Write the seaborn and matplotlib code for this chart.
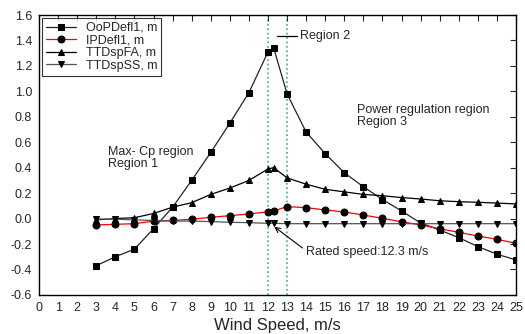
import pandas as pd
import seaborn as sns
import matplotlib
matplotlib.use("Agg")
import matplotlib.pyplot as plt

# wind speed (m/s), includes the rated speed point 12.3
wind_speed = [3, 4, 5, 6, 7, 8, 9, 10, 11, 12, 12.3, 13, 14, 15, 16, 17, 18, 19, 20, 21, 22, 23, 24, 25]

oop_defl = [-0.37, -0.30, -0.24, -0.08, 0.09, 0.30, 0.52, 0.75, 0.99, 1.31, 1.34, 0.98, 0.68,
            0.51, 0.36, 0.25, 0.15, 0.06, -0.035, -0.09, -0.15, -0.22, -0.28, -0.325]
ip_defl = [-0.05, -0.045, -0.04, -0.02, -0.015, -0.005, 0.01, 0.023, 0.036, 0.054, 0.06, 0.094, 0.086,
           0.068, 0.052, 0.028, 0.002, -0.025, -0.05, -0.08, -0.108, -0.137, -0.163, -0.194]
tt_fa = [-0.01, 0.0, 0.007, 0.04, 0.09, 0.125, 0.19, 0.24, 0.30, 0.39, 0.40, 0.32, 0.27,
         0.23, 0.21, 0.19, 0.18, 0.165, 0.154, 0.14, 0.133, 0.128, 0.122, 0.115]
tt_ss = [-0.003, -0.005, -0.01, -0.015, -0.02, -0.019, -0.024, -0.029, -0.032, -0.037, -0.037, -0.04, -0.04,
         -0.04, -0.04, -0.04, -0.04, -0.04, -0.04, -0.04, -0.04, -0.04, -0.04, -0.04]

x_ticks = list(range(0, 26))
y_ticks = [-0.6, -0.4, -0.2, 0.0, 0.2, 0.4, 0.6, 0.8, 1.0, 1.2, 1.4, 1.6]

sns.set_style("white")
plt.rcParams['font.family'] = ['Liberation Sans', 'DejaVu Sans']

fig = plt.figure(figsize=(5.25, 3.34), dpi=100)
ax = fig.add_axes([0.0743, 0.117, 0.9087, 0.838])

df = pd.DataFrame({'ws': wind_speed, 'oop': oop_defl, 'ip': ip_defl, 'fa': tt_fa, 'ss': tt_ss})

series = [
    ('oop', 'OoPDefl1, m', '#222222', 's'),
    ('ip', 'IPDefl1, m', '#ff0000', 'o'),
    ('fa', 'TTDspFA, m', '#000000', '^'),
    ('ss', 'TTDspSS, m', '#555555', 'v'),
]
for col, label, color, marker in series:
    sns.lineplot(data=df, x='ws', y=col, ax=ax, label=label, color=color, marker=marker,
                 markersize=5, markerfacecolor='black', markeredgecolor='black', linewidth=0.9)

# region boundaries
for xv in [12, 13]:
    ax.axvline(xv, color='#3aa6a6', linestyle=':', linewidth=1.2, zorder=0)

ax.plot([12.47, 13.5], [1.435, 1.435], color='black', linewidth=0.9)
ax.text(13.7, 1.435, 'Region 2', fontsize=9, va='center', ha='left')
ax.text(16.67, 0.805, 'Power regulation region\nRegion 3', fontsize=9, va='center', ha='left',
        linespacing=1.05)
ax.text(3.62, 0.475, 'Max- Cp region\nRegion 1', fontsize=9, va='center', ha='left', linespacing=1.05)
ax.annotate('Rated speed:12.3 m/s', xy=(12.33, -0.064), xytext=(13.98, -0.26), fontsize=9,
            va='center', ha='left',
            arrowprops=dict(arrowstyle='->', color='black', lw=0.8, shrinkA=0, shrinkB=0,
                            relpos=(0, 0.6)))

ax.set_xlim(0, 25)
ax.set_ylim(-0.6, 1.6)
ax.set_xticks(x_ticks)
ax.set_yticks(y_ticks)
ax.set_yticklabels([f'{v:.1f}' for v in y_ticks])
ax.tick_params(direction='in', top=True, right=True, labelsize=9, length=4, width=0.8, pad=5)
ax.set_xlabel('Wind Speed, m/s', fontsize=12, labelpad=3)
ax.set_ylabel('')
for sp in ax.spines.values():
    sp.set_color('black')
    sp.set_linewidth(1.0)

leg = ax.legend(loc='upper left', fontsize=9, frameon=True, fancybox=False, edgecolor='black',
                borderpad=0.3, labelspacing=0.05, handlelength=2.4, borderaxespad=0.25)
leg.get_frame().set_linewidth(0.8)

plt.savefig('out.png', dpi=100)
